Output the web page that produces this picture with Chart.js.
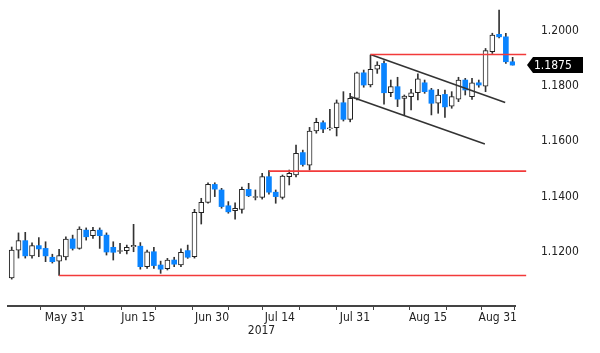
<!DOCTYPE html>
<html>
<head>
<meta charset="utf-8">
<script src="https://cdn.jsdelivr.net/npm/chart.js@4.4.1/dist/chart.umd.min.js"></script>
<style>
  html, body { margin: 0; padding: 0; background: #fff; }
</style>
</head>
<body>
<canvas id="fx" width="600" height="353"></canvas>
<script>
// EUR/USD daily candles, one per trading day (19 May - 31 Aug 2017)
const opens = [
  1.1106, 1.1207, 1.1241, 1.1186, 1.1223, 1.1213, 1.1181, 1.1167, 1.1182, 1.1247,
  1.1213, 1.1279, 1.1259, 1.1279, 1.1261, 1.1217, 1.1202, 1.1205, 1.1219, 1.1221,
  1.1147, 1.1201, 1.1153, 1.1140, 1.1171, 1.1153, 1.1205, 1.1183, 1.1342, 1.1379,
  1.1444, 1.1424, 1.1367, 1.1349, 1.1354, 1.1426, 1.1397, 1.1397, 1.1472, 1.1416,
  1.1397, 1.1472, 1.1478, 1.1559, 1.1514, 1.1637, 1.1667, 1.1645, 1.1649, 1.1739,
  1.1679, 1.1755, 1.1847, 1.1803, 1.1860, 1.1881, 1.1775, 1.1797, 1.1755, 1.1761,
  1.1775, 1.1811, 1.1785, 1.1737, 1.1769, 1.1727, 1.1752, 1.1821, 1.1761, 1.1811,
  1.1799, 1.1923, 1.1986, 1.1977, 1.1887
];
const highs = [
  1.1218, 1.1269, 1.1271, 1.1233, 1.1252, 1.1237, 1.1192, 1.1210, 1.1255, 1.1261,
  1.1291, 1.1287, 1.1289, 1.1287, 1.1269, 1.1237, 1.1231, 1.1225, 1.1300, 1.1234,
  1.1207, 1.1217, 1.1167, 1.1177, 1.1181, 1.1211, 1.1225, 1.1354, 1.1394, 1.1450,
  1.1450, 1.1430, 1.1382, 1.1378, 1.1434, 1.1448, 1.1424, 1.1484, 1.1494, 1.1424,
  1.1478, 1.1496, 1.1586, 1.1568, 1.1650, 1.1683, 1.1674, 1.1715, 1.1749, 1.1779,
  1.1773, 1.1850, 1.1857, 1.1911, 1.1887, 1.1890, 1.1821, 1.1831, 1.1767, 1.1787,
  1.1843, 1.1821, 1.1791, 1.1787, 1.1785, 1.1779, 1.1831, 1.1827, 1.1827, 1.1821,
  1.1935, 1.1990, 1.2074, 1.1990, 1.1903
];
const lows = [
  1.1102, 1.1178, 1.1178, 1.1178, 1.1183, 1.1165, 1.1160, 1.1115, 1.1171, 1.1207,
  1.1210, 1.1243, 1.1249, 1.1213, 1.1189, 1.1171, 1.1195, 1.1193, 1.1201, 1.1138,
  1.1141, 1.1141, 1.1123, 1.1135, 1.1147, 1.1147, 1.1177, 1.1178, 1.1301, 1.1376,
  1.1400, 1.1358, 1.1340, 1.1319, 1.1340, 1.1400, 1.1388, 1.1391, 1.1409, 1.1376,
  1.1391, 1.1442, 1.1471, 1.1510, 1.1496, 1.1629, 1.1631, 1.1640, 1.1619, 1.1673,
  1.1670, 1.1749, 1.1795, 1.1796, 1.1845, 1.1734, 1.1761, 1.1725, 1.1695, 1.1713,
  1.1749, 1.1773, 1.1695, 1.1701, 1.1686, 1.1719, 1.1743, 1.1767, 1.1751, 1.1795,
  1.1779, 1.1917, 1.1973, 1.1881, 1.1875
];
const closes = [
  1.1207, 1.1241, 1.1186, 1.1223, 1.1211, 1.1186, 1.1165, 1.1187, 1.1247, 1.1213,
  1.1283, 1.1255, 1.1278, 1.1259, 1.1200, 1.1199, 1.1205, 1.1217, 1.1224, 1.1147,
  1.1201, 1.1151, 1.1138, 1.1171, 1.1156, 1.1199, 1.1181, 1.1343, 1.1379, 1.1444,
  1.1427, 1.1364, 1.1345, 1.1358, 1.1426, 1.1403, 1.1400, 1.1472, 1.1416, 1.1400,
  1.1474, 1.1484, 1.1556, 1.1516, 1.1637, 1.1668, 1.1644, 1.1648, 1.1739, 1.1679,
  1.1755, 1.1847, 1.1803, 1.1860, 1.1875, 1.1775, 1.1797, 1.1752, 1.1763, 1.1775,
  1.1825, 1.1779, 1.1737, 1.1767, 1.1724, 1.1761, 1.1821, 1.1785, 1.1811, 1.1803,
  1.1927, 1.1983, 1.1977, 1.1887, 1.1875
];
const lastPrice = 1.1875;

// x axis ticks, in trading-day units (0 = first candle)
const tickLabels = ['May 31', 'Jun 15', 'Jun 30', 'Jul 14', 'Jul 31', 'Aug 15', 'Aug 31'];
const tickDays = [7.8, 18.7, 29.6, 39.6, 50.7, 61.5, 71.8];
const minorTickDays = [0.7, 13.8, 23.8, 34.5, 45.3, 56.1, 66.9];
const priceTicks = [1.12, 1.14, 1.16, 1.18, 1.20];

// horizontal levels and the falling channel
const resistance = [{x: 53, y: 1.1913}, {x: 76, y: 1.1913}];
const midSupport = [{x: 38, y: 1.1492}, {x: 76, y: 1.1492}];
const lowSupport = [{x: 7, y: 1.1115}, {x: 76, y: 1.1115}];
const channelTop = [{x: 53, y: 1.1913}, {x: 72.9, y: 1.1740}];
const channelBottom = [{x: 50.1, y: 1.1761}, {x: 69.9, y: 1.1590}];

const FONT = {family: "'Liberation Sans Narrow', 'DejaVu Sans Condensed', sans-serif", size: 12};
const TEXT = '#222';
const BLUE = '#0a84ff';

const isUp = opens.map((o, i) => closes[i] >= o);
const bodies = opens.map((o, i) => ({x: i, y: [o, closes[i]]}));
const wicks = lows.map((l, i) => ({x: i, y: [l, highs[i]]}));

const levelLine = (data, color) => ({
  type: 'line', data, borderColor: color, borderWidth: 1.6,
  pointRadius: 0, clip: false, order: 0
});

// black tag with the last price, on the price axis
const lastPriceTag = {
  id: 'lastPriceTag',
  afterDraw(chart) {
    const {ctx, chartArea, scales: {y}} = chart;
    const py = Math.round(y.getPixelForValue(lastPrice));
    const x0 = chartArea.right + 12;
    ctx.save();
    ctx.fillStyle = '#000';
    ctx.beginPath();
    ctx.moveTo(x0, py);
    ctx.lineTo(x0 + 6, py - 8);
    ctx.lineTo(x0 + 56, py - 8);
    ctx.lineTo(x0 + 56, py + 8);
    ctx.lineTo(x0 + 6, py + 8);
    ctx.closePath();
    ctx.fill();
    ctx.fillStyle = '#fff';
    ctx.font = `${FONT.size}px ${FONT.family}`;
    ctx.textBaseline = 'middle';
    ctx.fillText(lastPrice.toFixed(4), x0 + 7, py + 1);
    ctx.restore();
  }
};

new Chart(document.getElementById('fx'), {
  type: 'bar',
  data: {
    datasets: [
      {
        data: bodies,
        backgroundColor: isUp.map(u => u ? '#ffffff' : BLUE),
        borderColor: '#222',
        borderWidth: isUp.map(u => u ? 1 : 0),
        borderSkipped: false,
        barThickness: 5,
        grouped: false,
        order: 1
      },
      {
        data: wicks,
        backgroundColor: '#333',
        barThickness: 1,
        grouped: false,
        order: 2
      },
      levelLine(resistance, '#f23a3a'),
      levelLine(midSupport, '#f23a3a'),
      levelLine(lowSupport, '#f23a3a'),
      levelLine(channelTop, '#333'),
      levelLine(channelBottom, '#333')
    ]
  },
  options: {
    responsive: false,
    devicePixelRatio: 1,
    animation: false,
    layout: {padding: {left: 8, right: 0, top: 0, bottom: 0}},
    plugins: {legend: {display: false}, tooltip: {enabled: false}},
    scales: {
      x: {
        type: 'linear',
        min: -0.55,
        max: 74.35,
        offset: false,
        grid: {drawOnChartArea: false, drawTicks: true, tickLength: 4, color: '#444'},
        border: {display: true, color: '#444', width: 2},
        ticks: {
          font: FONT, color: TEXT, padding: 1, maxRotation: 0, autoSkip: false,
          callback: v => {
            const k = tickDays.indexOf(v);
            return k >= 0 ? tickLabels[k] : '';
          }
        },
        afterBuildTicks: scale => {
          scale.ticks = tickDays.concat(minorTickDays)
            .sort((a, b) => a - b)
            .map(v => ({value: v}));
        },
        afterFit: scale => {
          scale.height = 47;
          scale.paddingLeft = 0;
          scale.paddingRight = 0;
        },
        title: {display: true, text: '2017', font: FONT, color: TEXT, padding: {top: 0, bottom: 15}}
      },
      y: {
        type: 'linear',
        position: 'right',
        min: 1.1005,
        max: 1.2110,
        grid: {display: false},
        border: {display: false},
        ticks: {font: FONT, color: TEXT, padding: 18, callback: v => v.toFixed(4)},
        afterBuildTicks: scale => {
          scale.ticks = priceTicks.map(v => ({value: v}));
        },
        afterFit: scale => {
          scale.width = 85;
          scale.paddingTop = 0;
          scale.paddingBottom = 0;
        }
      }
    }
  },
  plugins: [lastPriceTag]
});
</script>
</body>
</html>
